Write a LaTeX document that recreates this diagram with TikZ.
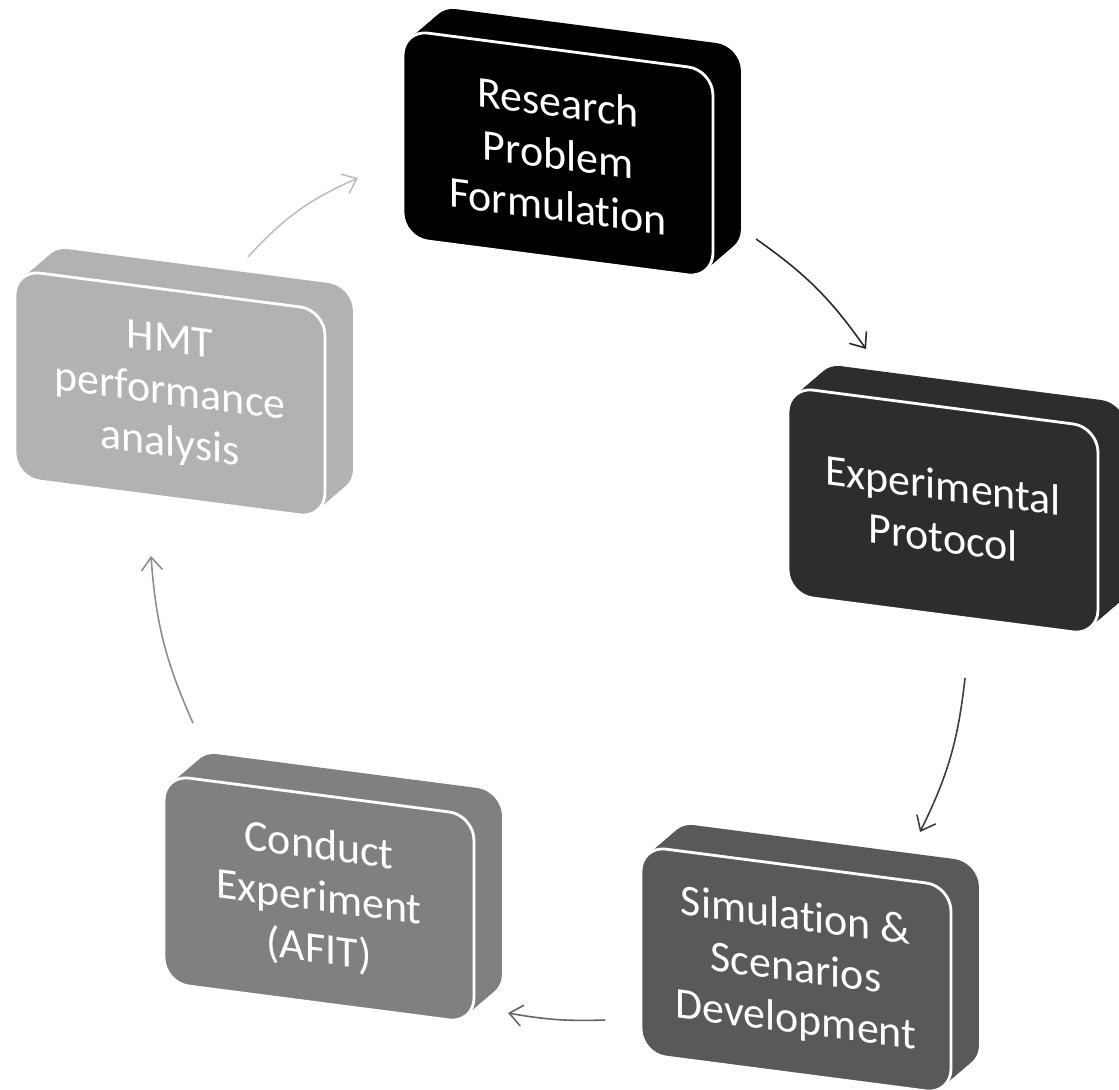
\documentclass[tikz,border=0pt]{standalone}
\usepackage{fontspec}
\newfontfamily\slabfont[Ligatures=NoCommon]{Carlito}
\usetikzlibrary{arrows.meta}
\definecolor{slabA}{RGB}{0,0,0}
\definecolor{slabB}{RGB}{45,45,45}
\definecolor{slabC}{RGB}{89,89,89}
\definecolor{slabD}{RGB}{128,128,128}
\definecolor{slabE}{RGB}{178,178,178}
\definecolor{arcA}{RGB}{40,40,40}
\definecolor{arcB}{RGB}{60,60,60}
\definecolor{arcC}{RGB}{100,100,100}
\definecolor{arcD}{RGB}{140,140,140}
\definecolor{arcE}{RGB}{190,190,190}
\tikzset{
  slab/.style={rounded corners=0.5cm,minimum width=6.2cm,minimum height=4.16cm,
    inner sep=0pt,transform shape,text=white,align=center,
    font=\slabfont\fontsize{25}{29.5}\selectfont},
  cyc/.style={line width=0.9pt,-{Straight Barb[length=2.6mm,width=4.2mm]}}
}

\begin{document}
\begin{tikzpicture}[x=0.02cm,y=0.02cm]
  \useasboundingbox (0,0) rectangle (1119,-1089);
  \foreach \n/\x/\y/\c/\t in {
    res/558/154/slabA/{Research\\Problem\\Formulation},
    exp/943/511/slabB/{Experimental\\Protocol},
    sim/796/970/slabC/{Simulation \&\\Scenarios\\Development},
    con/319/899/slabD/{Conduct\\Experiment\\(AFIT)},
    hmt/170/394/slabE/{HMT\\performance\\analysis}}
  {
    \begin{scope}[shift={(\x,-\y)},yslant=-0.13]
      \foreach \k in {12,11,...,1}
        \node[slab,fill=\c] (\n-\k) at (\k*2.33,\k*2.3) {};
      \node[slab,fill=\c,draw=white,line width=1.6pt] (\n) at (0,0) {\t};
    \end{scope}
  }
  \coordinate (hmt-out) at (248,-257);
  \coordinate (res-in) at (358,-178);
  \coordinate (res-out) at (756,-239);
  \coordinate (exp-in) at (866,-349);
  \coordinate (exp-out) at (965,-678);
  \coordinate (sim-in) at (920,-832);
  \coordinate (sim-out) at (605,-1020);
  \coordinate (con-in) at (508,-1013);
  \coordinate (con-out) at (193,-723);
  \coordinate (hmt-in) at (151,-556);
  \draw[cyc,arcE] (hmt-out) to[bend left=12] (res-in);
  \draw[cyc,arcA] (res-out) to[bend left=10] (exp-in);
  \draw[cyc,arcB] (exp-out) to[bend left=10] (sim-in);
  \draw[cyc,arcC] (sim-out) to[bend left=6] (con-in);
  \draw[cyc,arcD] (con-out) to[bend left=10] (hmt-in);
\end{tikzpicture}
\end{document}
